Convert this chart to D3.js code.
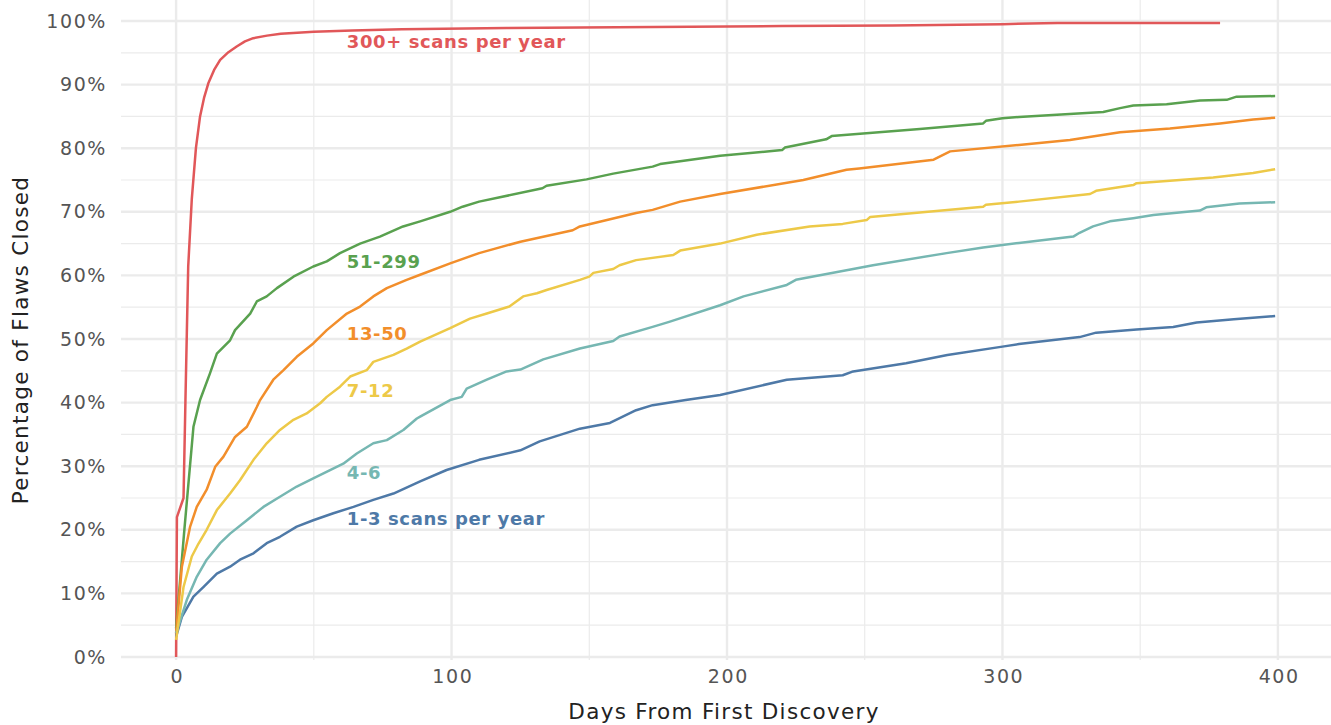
<!DOCTYPE html>
<html><head><meta charset="utf-8">
<script src="https://cdn.jsdelivr.net/npm/d3@7"></script>
<style>
body{margin:0;background:#fff;}
svg{display:block;font-family:"DejaVu Sans","Open Sans",sans-serif;}
</style></head>
<body><svg id="chart" width="1331" height="725"></svg>
<script>
const seriesNames = ["300+ scans per year","51-299","13-50","7-12","4-6","1-3 scans per year"];
const seriesColors = ["#e15759","#59a14f","#f28e2b","#edc948","#76b7b2","#4e79a7"];
const xTicks = [0,100,200,300,400];
const yTicks = [0,10,20,30,40,50,60,70,80,90,100];

const s300 = [[0,0],[0.3,22],[2.7,25],[3.4,40.4],[3.9,51],[4.4,61.4],[5.7,72],[7.2,80],[8.7,85],[10.2,88],[11.7,90.2],[13.8,92.3],[16,93.9],[19,95.1],[22,96],[25,96.8],[28,97.3],[33,97.7],[38,98],[50,98.3],[64,98.5],[82,98.7],[120,98.9],[160,99.0],[220,99.2],[260,99.3],[300,99.5],[320,99.7],[379,99.7]];
const s51 = [[0,4.5],[3,20],[6.3,36.2],[8.7,40.4],[12.3,44.6],[14.8,47.7],[19.6,49.8],[21.4,51.4],[26.9,54],[29.3,55.9],[32.9,56.7],[36.6,58],[42.6,59.8],[49.8,61.4],[54.7,62.2],[59.5,63.5],[66.8,65],[74,66.1],[82.4,67.7],[88.6,68.5],[99.5,70],[104,70.8],[110,71.6],[133,73.7],[134.5,74.1],[149,75.1],[158.7,76],[173,77.1],[175.7,77.5],[197.5,78.8],[220,79.7],[221,80.1],[236,81.4],[238,81.9],[270,83],[293,83.9],[294,84.3],[300,84.7],[306,84.9],[336.6,85.7],[342.7,86.3],[347.5,86.7],[359.6,86.9],[371.7,87.5],[381.4,87.6],[385,88.1],[399,88.2]];
const s13 = [[0,3.7],[2.1,14.2],[5.1,20.5],[7.5,23.6],[11.1,26.3],[14.2,29.9],[17.2,31.5],[21.4,34.6],[25.7,36.2],[29.3,39.3],[30.5,40.4],[35.3,43.6],[39,45.1],[43.8,47.2],[49.8,49.3],[54.7,51.4],[62,54],[66.8,55.1],[71.6,56.7],[76.5,58],[83.7,59.3],[88.6,60.1],[99.5,61.9],[110,63.5],[125,65.3],[144,67.1],[146.6,67.7],[167,69.8],[173,70.3],[183,71.6],[197.5,72.8],[227.7,75],[243.4,76.6],[248,76.8],[275,78.2],[281,79.5],[306,80.5],[324.5,81.3],[342.7,82.5],[360.8,83.1],[379,83.9],[391,84.5],[399,84.8]];
const s7 = [[0,2.7],[2.7,11],[5.7,15.8],[8.1,17.8],[11.1,20],[14.8,23.1],[19.6,25.7],[23.2,27.8],[28.1,31],[32.9,33.6],[37.7,35.7],[42.6,37.3],[47.4,38.3],[52.3,39.9],[54.7,40.9],[59.5,42.5],[63.2,44.1],[69.2,45.1],[71.6,46.4],[78.9,47.5],[83.7,48.5],[88.6,49.6],[99.5,51.7],[106.7,53.2],[112.8,54],[121,55.1],[126,56.7],[131,57.2],[134.5,57.7],[146.6,59.3],[150,59.8],[151.5,60.4],[158.7,61],[161,61.6],[167,62.4],[180.5,63.2],[183,63.9],[197.5,65],[210.8,66.4],[230,67.7],[242,68.1],[250.7,68.7],[252,69.2],[293,70.8],[294,71.1],[306,71.6],[331.8,72.8],[334,73.3],[347.5,74.2],[348.7,74.5],[376.5,75.4],[391,76.1],[399,76.7]];
const s4 = [[0,3.7],[3.9,9],[7.5,12.6],[11.1,15.3],[16,17.9],[19.6,19.4],[25.7,21.5],[31.7,23.6],[37.7,25.2],[43.8,26.8],[49.8,28.1],[55.9,29.4],[60.7,30.4],[65.6,32],[71.6,33.6],[76.5,34.1],[82.5,35.7],[87.4,37.5],[88.6,37.8],[99.5,40.4],[103.7,40.9],[105.5,42.2],[112.8,43.6],[120,44.9],[125,45.2],[133.3,46.8],[146.6,48.5],[158.7,49.7],[161,50.4],[173,51.9],[179,52.7],[197.5,55.3],[206,56.7],[221.7,58.5],[225,59.3],[245.8,61],[253,61.6],[279.7,63.5],[293,64.4],[306,65.1],[325.7,66.1],[328,66.7],[332.9,67.7],[339,68.5],[347.5,69],[354.8,69.5],[371.7,70.2],[374,70.7],[386,71.3],[399,71.5]];
const s1 = [[0,3.2],[2.1,6.3],[6.3,9.5],[9.9,11],[14.8,13.1],[19.6,14.2],[23.2,15.3],[28.1,16.3],[32.9,17.9],[37.7,18.9],[43.8,20.5],[49.8,21.5],[57.1,22.6],[64.4,23.6],[71.6,24.7],[78.9,25.7],[88.6,27.6],[98.2,29.4],[110,31],[125,32.5],[132,33.9],[146.6,35.9],[157.5,36.8],[167,38.8],[173,39.6],[185,40.4],[197.5,41.2],[221.7,43.6],[242,44.3],[245.8,44.9],[265,46.2],[280,47.5],[300,48.8],[306,49.2],[328,50.3],[334,51],[348.7,51.5],[362,51.9],[370.5,52.6],[384,53.1],[399,53.6]];
const seriesData = [s300, s51, s13, s7, s4, s1];
// label anchor positions (day, percent)
const labelDays = [62,62,62,62,62,62];
const labelPcts = [96.7,62.1,50.9,41.8,28.9,21.7];

const svg = d3.select("#chart");
const x = d3.scaleLinear().domain([-20,420]).range([121,1333]);
const y = d3.scaleLinear().domain([0,100]).range([657,21]);
const panelTop = 0, panelBottom = 660;

const grid = svg.append("g");
[50,150,250,350].forEach(v=>{
  grid.append("line").attr("x1",x(v)).attr("x2",x(v)).attr("y1",panelTop).attr("y2",panelBottom)
    .attr("stroke","#ebebeb").attr("stroke-width",1.2);
});
[5,15,25,35,45,55,65,75,85,95].forEach(v=>{
  grid.append("line").attr("x1",121).attr("x2",1331).attr("y1",y(v)).attr("y2",y(v))
    .attr("stroke","#ebebeb").attr("stroke-width",1.2);
});
xTicks.forEach(v=>{
  grid.append("line").attr("x1",x(v)).attr("x2",x(v)).attr("y1",panelTop).attr("y2",panelBottom)
    .attr("stroke","#ebebeb").attr("stroke-width",2.4);
});
yTicks.forEach(v=>{
  grid.append("line").attr("x1",121).attr("x2",1331).attr("y1",y(v)).attr("y2",y(v))
    .attr("stroke","#ebebeb").attr("stroke-width",2.4);
});

const xAxis = svg.append("g").attr("transform","translate(0,660)")
  .call(d3.axisBottom(x).tickValues(xTicks).tickSize(0).tickPadding(10));
const yAxis = svg.append("g").attr("transform","translate(121,0)")
  .call(d3.axisLeft(y).tickValues(yTicks).tickFormat(d=>d+"%").tickSize(0).tickPadding(14));
[xAxis,yAxis].forEach(a=>{
  a.select(".domain").remove();
  a.selectAll("text").attr("font-family","'DejaVu Sans',sans-serif").attr("font-size",19)
    .attr("fill","#555").attr("letter-spacing","1.6px");
});
xAxis.selectAll("text").attr("dy","0.71em").attr("dx","0.8px");

const line = d3.line().x(d=>x(d[0])).y(d=>y(d[1]));
const order = [0,1,2,5,4,3];
order.forEach(i=>{
  svg.append("path").datum(seriesData[i]).attr("d",line)
    .attr("fill","none").attr("stroke",seriesColors[i]).attr("stroke-width",2.5)
    .attr("stroke-linejoin","round");
});

seriesNames.forEach((n,i)=>{
  svg.append("text").attr("x",x(labelDays[i])).attr("y",y(labelPcts[i]))
    .attr("dy","0.35em").attr("fill",seriesColors[i])
    .attr("font-size",18).attr("font-weight",700).attr("letter-spacing","0.6px").text(n);
});

svg.append("text").attr("x",724).attr("y",719).attr("text-anchor","middle")
  .attr("font-size",21.5).attr("fill","#222").attr("letter-spacing","1.3px").text("Days From First Discovery");
svg.append("text").attr("transform","translate(28,340) rotate(-90)").attr("text-anchor","middle")
  .attr("font-size",21.5).attr("fill","#222").attr("letter-spacing","1.3px").text("Percentage of Flaws Closed");
</script></body></html>
